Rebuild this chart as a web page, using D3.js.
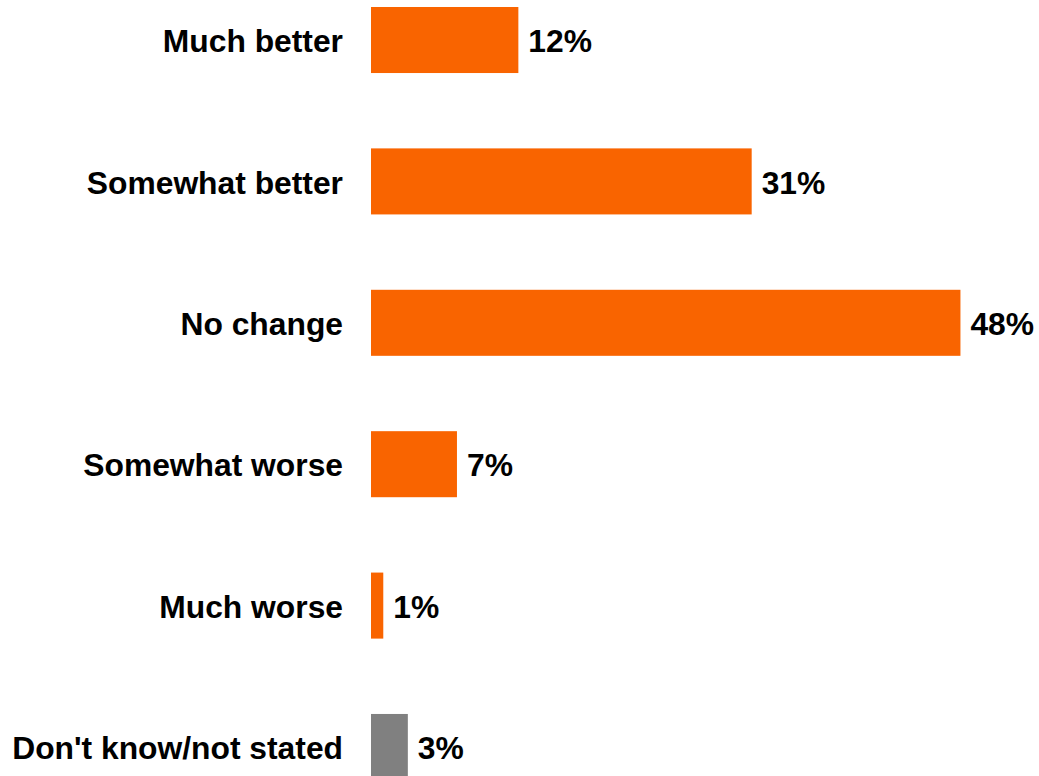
<!DOCTYPE html>
<html><head><meta charset="utf-8">
<script src="https://cdn.jsdelivr.net/npm/d3@7"></script>
<style>html,body{margin:0;padding:0;background:#fff;overflow:hidden}</style>
</head><body>
<svg id="chart" width="1039" height="776"></svg>
<script>
const categories = ["Much better","Somewhat better","No change","Somewhat worse","Much worse","Don't know/not stated"];
const values = [12, 31, 48, 7, 1, 3];
const colors = ["#F96400","#F96400","#F96400","#F96400","#F96400","#808080"];

const svg = d3.select("#chart");
const y = d3.scaleBand().domain(categories).range([7, 780]).paddingInner(0.533).paddingOuter(0);
const x = d3.scaleLinear().domain([0, 50]).range([371, 985]);
const font = "'Liberation Sans', Arial, sans-serif";

svg.selectAll("rect.bar").data(categories).enter().append("rect")
  .attr("class","bar")
  .attr("x", x(0))
  .attr("y", d => y(d))
  .attr("width", (d,i) => x(values[i]) - x(0))
  .attr("height", y.bandwidth())
  .attr("fill", (d,i) => colors[i]);

svg.selectAll("text.cat").data(categories).enter().append("text")
  .attr("class","cat")
  .attr("x", 343)
  .attr("y", d => y(d) + y.bandwidth()/2 + 1)
  .attr("dy","0.35em")
  .attr("text-anchor","end")
  .style("font-family", font).style("font-weight","bold").style("font-size","31.8px")
  .attr("fill","#000")
  .text(d => d);

svg.selectAll("text.val").data(categories).enter().append("text")
  .attr("class","val")
  .attr("x", (d,i) => x(values[i]) + 10)
  .attr("y", d => y(d) + y.bandwidth()/2 + 1)
  .attr("dy","0.35em")
  .style("font-family", font).style("font-weight","bold").style("font-size","31.8px")
  .attr("fill","#000")
  .text((d,i) => values[i] + "%");
</script>
</body></html>
